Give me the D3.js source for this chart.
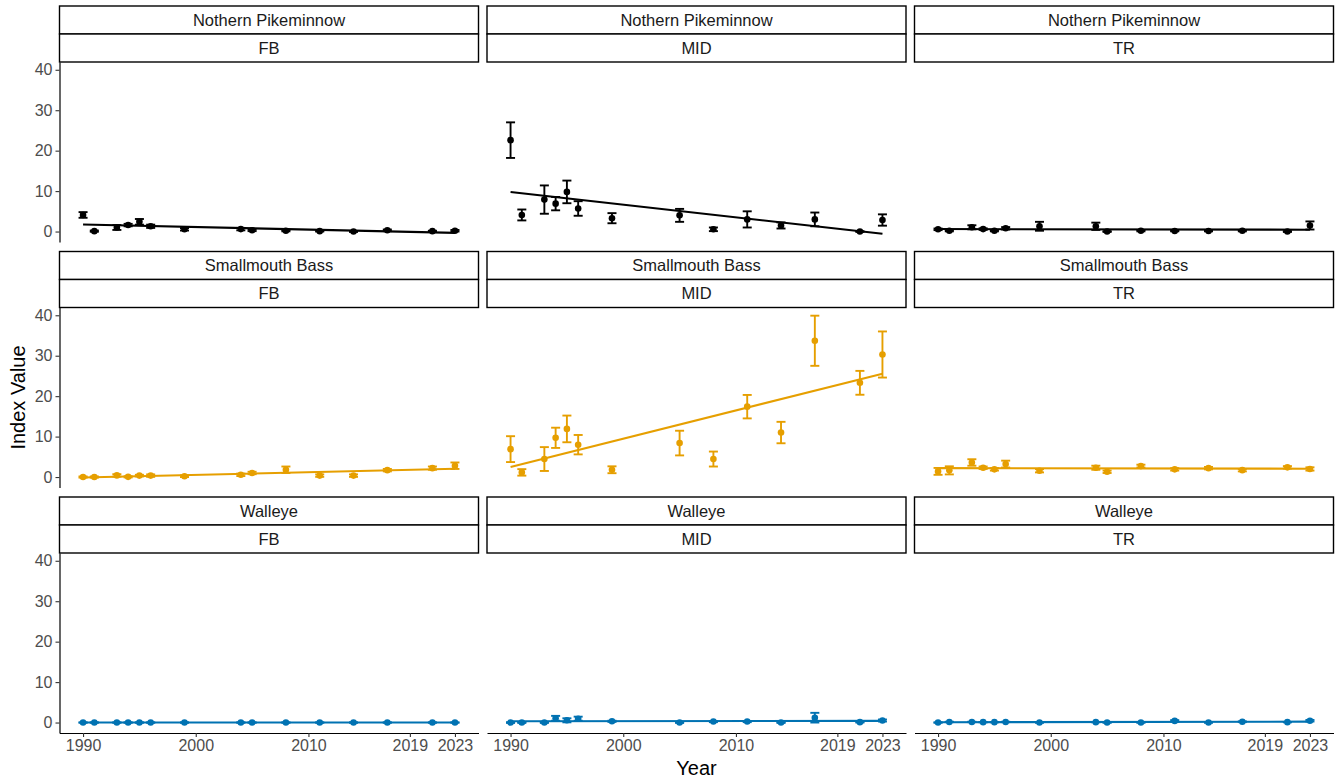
<!DOCTYPE html>
<html><head><meta charset="utf-8">
<script src="https://cdn.jsdelivr.net/npm/d3@7"></script>
<style>body{margin:0;background:#fff;} text{font-family:"Liberation Sans",Arial,sans-serif;}</style>
</head><body><svg id="c" width="1343" height="784"></svg>
<script>
const speciesNames = ["Nothern Pikeminnow","Smallmouth Bass","Walleye"];
const siteNames = ["FB","MID","TR"];
const yearsAll = [1990,1991,1993,1994,1995,1996,1999,2004,2005,2008,2011,2014,2017,2021,2023];
const yearsMID = [1990,1991,1993,1994,1995,1996,1999,2005,2008,2011,2014,2017,2021,2023];
const xTickYears = [1990,2000,2010,2019,2023];
const yTickValues = [0,10,20,30,40];

// Nothern Pikeminnow
const npFB    = [4.1,0.1,1.0,1.6,2.4,1.3,0.55,0.6,0.3,0.2,0.1,0.0,0.3,0.1,0.2];
const npFBse  = [0.7,0.15,0.6,0.3,0.7,0.4,0.3,0.3,0.2,0.15,0.1,0.1,0.2,0.1,0.2];
const npMID   = [22.6,4.1,7.9,6.9,9.8,5.7,3.3,4.0,0.55,3.0,1.5,3.0,0.0,2.85];
const npMIDse = [4.4,1.35,3.5,1.65,2.8,1.8,1.25,1.6,0.45,2.0,0.75,1.7,0.1,1.4];
const npTR    = [0.55,0.2,1.05,0.6,0.2,0.8,1.3,1.3,0.0,0.2,0.15,0.15,0.2,0.0,1.5];
const npTRse  = [0.2,0.15,0.5,0.2,0.15,0.3,1.1,0.9,0.1,0.15,0.1,0.1,0.15,0.1,1.0];
// Smallmouth Bass
const smbFB    = [0.0,0.0,0.4,0.05,0.35,0.35,0.2,0.55,1.0,1.8,0.35,0.35,1.7,2.2,2.8];
const smbFBse  = [0.15,0.15,0.3,0.15,0.2,0.3,0.2,0.3,0.3,0.8,0.3,0.3,0.3,0.4,0.8];
const smbMID   = [6.9,1.15,4.45,9.7,11.9,8.0,1.8,8.4,4.45,17.4,11.0,33.7,23.3,30.3];
const smbMIDse = [3.2,0.8,2.95,2.5,3.3,2.4,0.85,3.05,1.85,2.9,2.65,6.2,2.95,5.7];
const smbTR    = [1.4,1.65,3.6,2.3,1.9,3.2,1.55,2.3,1.3,2.7,1.9,2.2,1.7,2.4,2.0];
const smbTRse  = [0.85,1.0,0.8,0.3,0.3,0.85,0.4,0.5,0.3,0.35,0.3,0.3,0.3,0.3,0.4];
// Walleye
const wFB    = [0,0,0,0,0,0,0,0,0,0,0,0,0,0,0];
const wFBse  = [0.05,0.05,0.05,0.05,0.05,0.05,0.05,0.05,0.05,0.05,0.05,0.05,0.05,0.05,0.05];
const wMID   = [0.0,0.0,0.0,1.05,0.55,0.95,0.3,0.0,0.25,0.25,0.0,1.2,0.1,0.5];
const wMIDse = [0.1,0.1,0.1,0.6,0.5,0.5,0.15,0.1,0.15,0.15,0.1,1.2,0.1,0.25];
const wTR    = [0.0,0.15,0.15,0.1,0.1,0.15,0.0,0.1,0.0,0.0,0.4,0.0,0.2,0.1,0.45];
const wTRse  = [0.05,0.05,0.05,0.05,0.05,0.05,0.05,0.05,0.05,0.05,0.2,0.05,0.1,0.05,0.2];

const speciesColors = ["#000000","#E69F00","#0072B2"];

const panels = [
  {r:0,c:0,years:yearsAll,vals:npFB,se:npFBse},
  {r:0,c:1,years:yearsMID,vals:npMID,se:npMIDse},
  {r:0,c:2,years:yearsAll,vals:npTR,se:npTRse},
  {r:1,c:0,years:yearsAll,vals:smbFB,se:smbFBse},
  {r:1,c:1,years:yearsMID,vals:smbMID,se:smbMIDse},
  {r:1,c:2,years:yearsAll,vals:smbTR,se:smbTRse},
  {r:2,c:0,years:yearsAll,vals:wFB,se:wFBse},
  {r:2,c:1,years:yearsMID,vals:wMID,se:wMIDse},
  {r:2,c:2,years:yearsAll,vals:wTR,se:wTRse}
];

function lm(xs, ys){
  const n = xs.length, mx = d3.mean(xs), my = d3.mean(ys);
  let sxy=0, sxx=0;
  for(let i=0;i<n;i++){ sxy += (xs[i]-mx)*(ys[i]-my); sxx += (xs[i]-mx)**2; }
  const b = sxy/sxx; return {a: my - b*mx, b};
}
panels.forEach(p=>{
  p.fit = lm(p.years, p.vals);
  p.x0 = d3.min(p.years); p.x1 = d3.max(p.years);
});

// y domain trained on error bars and fit lines, 5% expansion
let yLo = Infinity, yHi = -Infinity;
panels.forEach(p=>{
  p.vals.forEach((v,i)=>{ yLo=Math.min(yLo,v-p.se[i]); yHi=Math.max(yHi,v+p.se[i]); });
  [p.x0,p.x1].forEach(x=>{ const f=p.fit.a+p.fit.b*x; yLo=Math.min(yLo,f); yHi=Math.max(yHi,f); });
});
const yPad = (yHi-yLo)*0.05;
const capHalf = 0.4;
const xLo0 = d3.min(yearsAll)-capHalf, xHi0 = d3.max(yearsAll)+capHalf;
const xPad = (xHi0-xLo0)*0.05;

const L = {left:59.5, colPitch:427.5, colW:419, top:6, rowPitch:245.5, stripH:28, panelH:180};
const svg = d3.select("#c");
svg.append("rect").attr("width",1343).attr("height",784).attr("fill","#fff");

const xs = [0,1,2].map(c=>d3.scaleLinear().domain([xLo0-xPad,xHi0+xPad]).range([L.left+c*L.colPitch, L.left+c*L.colPitch+L.colW]));
const ys = [0,1,2].map(r=>{
  const t = L.top + r*L.rowPitch + 2*L.stripH;
  return d3.scaleLinear().domain([yLo-yPad,yHi+yPad]).range([t+L.panelH, t]);
});

// strips
for(let r=0;r<3;r++) for(let c=0;c<3;c++){
  const x0 = L.left+c*L.colPitch, t = L.top+r*L.rowPitch;
  [[speciesNames[r],0],[siteNames[c],1]].forEach(([lab,k])=>{
    svg.append("rect").attr("x",x0).attr("y",t+k*L.stripH).attr("width",L.colW).attr("height",L.stripH)
      .attr("fill","#fff").attr("stroke","#000").attr("stroke-width",1.4);
    svg.append("text").attr("x",x0+L.colW/2).attr("y",t+k*L.stripH+L.stripH/2).attr("dy","0.36em")
      .attr("text-anchor","middle").attr("font-size","16.5px").attr("fill","#1A1A1A").text(lab);
  });
}

// panels
panels.forEach(p=>{
  const x = xs[p.c], y = ys[p.r], col = speciesColors[p.r];
  const g = svg.append("g");
  const rows = p.years.map((yr,i)=>({yr, v:p.vals[i], se:p.se[i]}));
  g.append("line").attr("x1",x(p.x0)).attr("x2",x(p.x1))
    .attr("y1",y(p.fit.a+p.fit.b*p.x0)).attr("y2",y(p.fit.a+p.fit.b*p.x1))
    .attr("stroke",col).attr("stroke-width",2.1);
  const eb = g.selectAll("g.eb").data(rows).join("g").attr("stroke",col).attr("stroke-width",1.9).attr("fill","none");
  eb.append("line").attr("x1",d=>x(d.yr)).attr("x2",d=>x(d.yr)).attr("y1",d=>y(d.v-d.se)).attr("y2",d=>y(d.v+d.se));
  eb.append("line").attr("x1",d=>x(d.yr-capHalf)).attr("x2",d=>x(d.yr+capHalf)).attr("y1",d=>y(d.v-d.se)).attr("y2",d=>y(d.v-d.se));
  eb.append("line").attr("x1",d=>x(d.yr-capHalf)).attr("x2",d=>x(d.yr+capHalf)).attr("y1",d=>y(d.v+d.se)).attr("y2",d=>y(d.v+d.se));
  g.selectAll("circle").data(rows).join("circle").attr("cx",d=>x(d.yr)).attr("cy",d=>y(d.v)).attr("r",3.3).attr("fill",col);
});

function styleAxis(g){
  g.select(".domain").attr("stroke","#000").attr("stroke-width",1.2);
  g.selectAll(".tick line").attr("stroke","#333").attr("stroke-width",1.1);
  g.selectAll(".tick text").attr("fill","#4D4D4D").attr("font-size","16px").attr("font-family","'Liberation Sans',Arial,sans-serif");
}
// y axes (left column)
for(let r=0;r<3;r++){
  const g = svg.append("g").attr("transform",`translate(${L.left},0)`)
    .call(d3.axisLeft(ys[r]).tickValues(yTickValues).tickSize(4).tickSizeOuter(0).tickPadding(3));
  styleAxis(g);
}
// x axes (bottom row)
const bottomY = ys[2].range()[0];
for(let c=0;c<3;c++){
  const g = svg.append("g").attr("transform",`translate(0,${bottomY})`)
    .call(d3.axisBottom(xs[c]).tickValues(xTickYears).tickFormat(d3.format("d")).tickSize(4).tickSizeOuter(0).tickPadding(3));
  styleAxis(g);
}
// axis titles
const plotL = L.left, plotR = L.left+2*L.colPitch+L.colW;
svg.append("text").attr("x",(plotL+plotR)/2).attr("y",775).attr("text-anchor","middle")
  .attr("font-size","20px").attr("fill","#000").text("Year");
const yMid = (L.top+2*L.stripH + bottomY)/2;
svg.append("text").attr("transform",`translate(25,${yMid}) rotate(-90)`).attr("text-anchor","middle")
  .attr("font-size","20px").attr("fill","#000").text("Index Value");
</script></body></html>
